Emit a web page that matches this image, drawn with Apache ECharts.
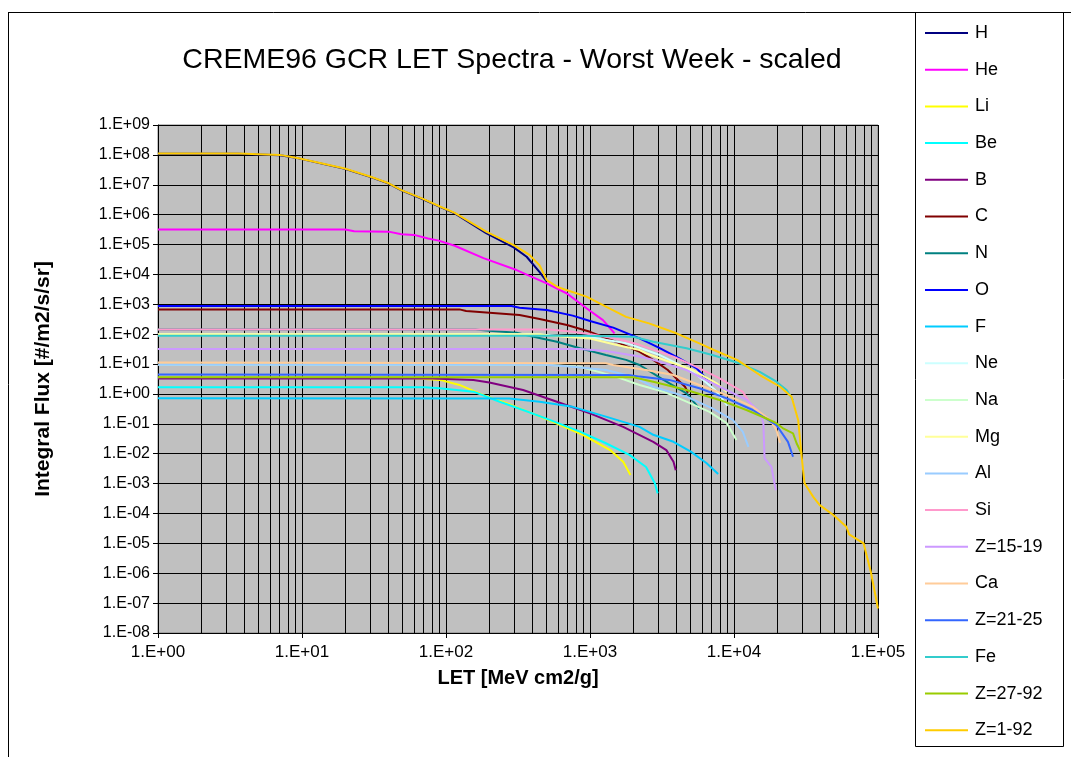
<!DOCTYPE html>
<html>
<head>
<meta charset="utf-8">
<script src="https://cdn.jsdelivr.net/npm/echarts@6/dist/echarts.min.js"></script>
<style>
  html, body { margin: 0; padding: 0; background: #ffffff; }
  #chart { width: 1071px; height: 769px; }
</style>
</head>
<body>
<div id="chart"></div>
<script>
// Integral flux spectra, [LET (MeV cm2/g), flux (#/m2/s/sr)] per species
const H = [[1,1.1e8],[3.6,1.1e8],[7,9.8e7],[9.3,7.8e7],[19.8,3.4e7],[30,1.8e7],[40,1.1e7],[49,6.5e6],[68,3.4e6],[89,1.9e6],[115,1.1e6],[190,2.4e5],[295,8.0e4],[363,3.9e4],[447,1.2e4],[500,5.8e3]];
const He = [[1,3.2e5],[20,3.2e5],[23,2.8e5],[40,2.7e5],[49,2.2e5],[60,2.1e5],[75,1.6e5],[89,1.35e5],[115,9.1e4],[182,3.5e4],[309,1.4e4],[500,5.0e3],[692,2.3e3],[945,740],[1230,295],[1380,158],[1480,107]];
const Li = [[1,3.5],[50,3.5],[68,3.2],[91,2.95],[124,2.0],[182,0.91],[263,0.49],[398,0.224],[550,0.117],[891,0.043],[1380,0.0132],[1700,5.4e-3],[1910,1.95e-3]];
const Be = [[1,1.66],[71,1.66],[90,1.55],[155,1.19],[236,0.55],[343,0.29],[525,0.135],[851,0.055],[1290,0.0224],[1880,9.1e-3],[2450,3.6e-3],[2820,1.02e-3],[2950,4.7e-4]];
const B = [[1,3.3],[80,3.3],[90,3.25],[155,2.95],[200,2.4],[343,1.35],[589,0.55],[1000,0.224],[1700,0.079],[2750,0.025],[3390,0.0132],[3800,5.4e-3],[3940,2.8e-3]];
const C = [[1,676],[124,676],[138,596],[324,436],[447,324],[692,204],[1000,120],[1510,56],[2210,25.7],[2750,13.8],[3470,6.3],[3980,3.3],[4570,1.74],[4790,1.1]];
const N = [[1,143],[160,143],[200,129],[309,112],[398,83],[589,56],[851,34],[1290,20],[1780,13.8],[2210,9.3],[3240,2.95],[4680,1.05],[5750,0.32]];
const O = [[1,870],[285,870],[324,767],[500,646],[759,417],[1000,275],[1450,166],[2210,72],[3050,34],[4170,15.5],[5500,7.2],[6760,2.57]];
const F = [[1,0.72],[275,0.71],[447,0.55],[759,0.37],[1290,0.174],[2210,0.079],[2750,0.043],[3800,0.025],[5010,0.0117],[6460,4.8e-3],[7760,2.1e-3]];
const Ne = [[1,100],[400,100],[1000,79],[1800,50],[3050,20],[5010,6.3],[7410,1.35],[9020,0.40]];
const Na = [[1,9.5],[500,9.5],[851,8.1],[1510,3.8],[2210,2.0],[3240,1.19],[4680,0.55],[6760,0.25],[8900,0.105],[10400,0.029]];
const Mg = [[1,100],[450,100],[525,89],[1000,72],[1510,44],[2210,29.5],[2450,23],[3550,12],[5190,6.3],[7590,2.26],[8900,1.17]];
const Al = [[1,9.5],[500,9.5],[759,8.1],[1290,6.3],[2000,3.8],[2750,1.74],[4680,0.81],[7080,0.33],[9800,0.135],[11500,0.055],[12600,0.017]];
const Si = [[1,143],[525,143],[759,120],[1000,100],[1510,72],[2210,44],[3800,17.8],[5500,8.1],[7940,3.3],[11500,1.17],[13500,0.355]];
const Z15_19 = [[1,32],[851,32],[1290,27.5],[2210,17.8],[2750,13.8],[4680,6.3],[7940,1.74],[12300,0.63],[15100,0.25],[16000,0.105],[16300,7.1e-3],[18200,3.6e-3],[19500,6.0e-4]];
const Ca = [[1,11.2],[1290,10.7],[1450,9.3],[2450,6.3],[3800,4.3],[5750,2.0],[8900,0.91],[13500,0.37],[17800,0.135],[19700,0.062],[20900,0.0234]];
const Z21_25 = [[1,4.5],[1860,4.3],[2210,3.8],[3550,2.95],[5750,1.55],[8900,0.71],[13500,0.29],[19700,0.091],[23700,0.025],[25700,7.9e-3]];
const Fe = [[1,89],[900,89],[2000,82],[2750,56],[4680,34],[7080,20],[11000,10.5],[15100,5.5],[19700,2.57],[23200,1.35],[25700,0.63]];
const Z27_92 = [[1,3.6],[2000,3.6],[2750,2.57],[4680,1.35],[7940,0.63],[12200,0.29],[16800,0.151],[19700,0.105],[21900,0.071],[25700,0.048],[27200,0.0224],[29500,0.0102]];
const Z1_92 = [[1,1.12e8],[3.6,1.12e8],[7,1.0e8],[9.3,7.9e7],[19.8,3.5e7],[30,1.86e7],[40,1.12e7],[49,6.6e6],[68,3.5e6],[89,1.95e6],[115,1.15e6],[190,2.7e5],[295,9.5e4],[380,4.5e4],[447,2.0e4],[500,6.5e3],[600,3.7e3],[945,1.8e3],[1290,830],[1780,380],[2570,230],[3980,107],[5750,49],[7240,29.5],[10500,13.8],[15100,4.3],[20900,1.74],[25100,0.81],[27900,0.135],[29500,7.9e-3],[30900,1.02e-3],[35500,3.6e-4],[39400,1.9e-4],[49000,8.9e-5],[60300,3.6e-5],[63100,2.0e-5],[79400,1.0e-5],[89100,1.12e-6],[100000,6.6e-8]];

const seriesNames = ['H','He','Li','Be','B','C','N','O','F','Ne','Na','Mg','Al','Si','Z=15-19','Ca','Z=21-25','Fe','Z=27-92','Z=1-92'];
const seriesData = [H, He, Li, Be, B, C, N, O, F, Ne, Na, Mg, Al, Si, Z15_19, Ca, Z21_25, Fe, Z27_92, Z1_92];
const seriesColors = ['#000080','#FF00FF','#FFFF00','#00FFFF','#800080','#800000','#008080','#0000FF','#00CCFF','#CCFFFF','#CCFFCC','#FFFF99','#99CCFF','#FF99CC','#CC99FF','#FFCC99','#3366FF','#33CCCC','#99CC00','#FFCC00'];

// LET gridlines between decades (2..9 x 10^n)
const minorLET = [];
for (let d = 0; d < 5; d++) {
  for (let k = 2; k <= 9; k++) minorLET.push(k * Math.pow(10, d));
}

function sciLabel(v) {
  const e = Math.round(Math.log10(v));
  const s = e < 0 ? '-' : '+';
  const a = Math.abs(e);
  return '1.E' + s + (a < 10 ? '0' + a : '' + a);
}

const FONT = 'Liberation Sans, Arial, sans-serif';
const chart = echarts.init(document.getElementById('chart'), null, { renderer: 'canvas' });

const series = [{
  name: '__grid',
  type: 'line',
  data: [],
  silent: true,
  markLine: {
    silent: true,
    z: 1,
    symbol: ['none', 'none'],
    label: { show: false },
    lineStyle: { color: '#000000', width: 1, type: 'solid' },
    emphasis: { disabled: true },
    data: minorLET.map(v => ({ xAxis: v }))
  }
}];
seriesNames.forEach((name, i) => {
  series.push({
    name: name,
    type: 'line',
    data: seriesData[i],
    symbol: 'none',
    showSymbol: false,
    smooth: false,
    lineStyle: { color: seriesColors[i], width: 2 },
    itemStyle: { color: seriesColors[i] },
    emphasis: { disabled: true }
  });
});

chart.setOption({
  animation: false,
  backgroundColor: '#ffffff',
  title: {
    text: 'CREME96 GCR LET Spectra - Worst Week - scaled',
    left: 507,
    top: 41,
    textAlign: 'center',
    textStyle: { fontFamily: FONT, fontSize: 28.5, fontWeight: 'normal', color: '#000000' }
  },
  legend: {
    data: seriesNames,
    orient: 'vertical',
    left: 925,
    top: 24,
    padding: 0,
    itemWidth: 43,
    itemHeight: 2,
    itemGap: 18.7,
    icon: 'rect',
    selectedMode: false,
    textStyle: { fontFamily: FONT, fontSize: 18, color: '#000000', padding: [0, 0, 0, 2] }
  },
  grid: {
    left: 158,
    right: 193,
    top: 125,
    bottom: 136,
    show: true,
    backgroundColor: '#C0C0C0',
    borderColor: '#808080',
    borderWidth: 1,
    containLabel: false
  },
  xAxis: {
    type: 'log',
    logBase: 10,
    min: 1,
    max: 100000,
    interval: 1,
    name: 'LET [MeV cm2/g]',
    nameLocation: 'middle',
    nameGap: 35,
    nameTextStyle: { fontFamily: FONT, fontSize: 20, fontWeight: 'bold', color: '#000000' },
    axisLine: { show: true, lineStyle: { color: '#000000', width: 1 } },
    axisTick: { show: true, inside: false, length: 5, lineStyle: { color: '#000000' } },
    axisLabel: { formatter: sciLabel, fontFamily: FONT, fontSize: 17, color: '#000000', margin: 11 },
    splitLine: { show: true, lineStyle: { color: '#000000', width: 1 } },
    minorTick: { show: false },
    minorSplitLine: { show: false }
  },
  yAxis: {
    type: 'log',
    logBase: 10,
    min: 1e-8,
    max: 1e9,
    interval: 1,
    name: 'Integral Flux [#/m2/s/sr]',
    nameLocation: 'middle',
    nameRotate: 90,
    nameGap: 104,
    nameTextStyle: { fontFamily: FONT, fontSize: 21, fontWeight: 'bold', color: '#000000' },
    axisLine: { show: true, lineStyle: { color: '#000000', width: 1 } },
    axisTick: { show: true, inside: false, length: 5, lineStyle: { color: '#000000' } },
    axisLabel: { formatter: sciLabel, fontFamily: FONT, fontSize: 16, color: '#000000', margin: 8 },
    splitLine: { show: true, lineStyle: { color: '#000000', width: 1 } }
  },
  graphic: [
    { type: 'line', silent: true, shape: { x1: 8.5, y1: 12, x2: 8.5, y2: 757 }, style: { stroke: '#000000', lineWidth: 1 } },
    { type: 'line', silent: true, shape: { x1: 8, y1: 12.5, x2: 1071, y2: 12.5 }, style: { stroke: '#000000', lineWidth: 1 } },
    { type: 'rect', silent: true, z: -1, shape: { x: 915.5, y: 12.5, width: 148, height: 734 }, style: { fill: '#ffffff', stroke: '#000000', lineWidth: 1 } }
  ],
  series: series
});
</script>
</body>
</html>
